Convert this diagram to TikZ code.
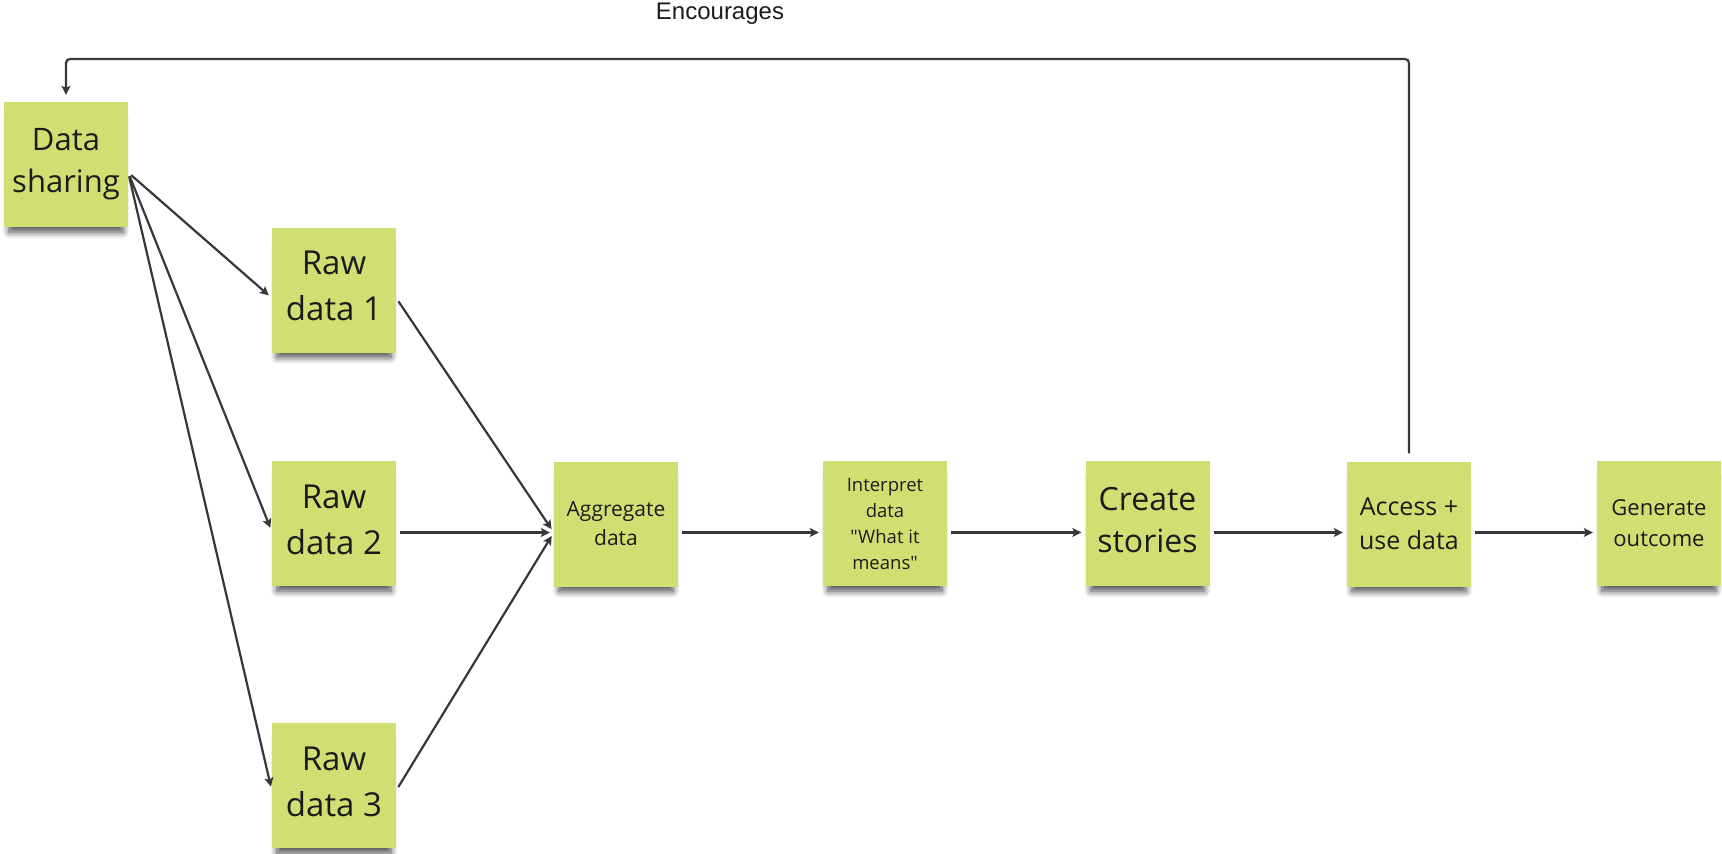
\documentclass[tikz,border=0pt]{standalone}
\usepackage{fontspec}
\setmainfont{Open Sans}[Ligatures=TeXOff]
\newfontfamily\captionfont{Liberation Sans}
\usetikzlibrary{arrows.meta,shadows.blur}

\definecolor{notegreen}{RGB}{209,223,114}
\definecolor{notetext}{RGB}{28,28,28}
\definecolor{linegray}{RGB}{55,55,55}

\tikzset{
  sticky/.style={fill=notegreen, minimum width=124pt, minimum height=125pt, inner sep=0pt,
    align=center, text=notetext,
    blur shadow={shadow xshift=0pt, shadow yshift=-11pt, shadow scale=0.92,
      shadow opacity=70, shadow blur radius=7pt, shadow blur steps=8}},
  lifted/.style={text depth=8pt},
  flow/.style={draw=linegray, line width=2.2pt, shorten <=4pt, shorten >=4pt,
    -{Stealth[length=9pt,width=9pt,inset=2pt]}},
}

\begin{document}
\begin{tikzpicture}[x=1pt,y=-1pt]
\useasboundingbox (0,0) rectangle (1722,854);

% Sticky notes
\node[sticky, font=\fontsize{31}{42}\selectfont] (share) at (66,164.5) {Data\\sharing};
\node[sticky, lifted, font=\fontsize{33}{46}\selectfont] (raw1) at (334,290) {Raw\\data 1};
\node[sticky, lifted, font=\fontsize{33}{46}\selectfont] (raw2) at (334,523.5) {Raw\\data 2};
\node[sticky, lifted, font=\fontsize{33}{46}\selectfont] (raw3) at (334,785.5) {Raw\\data 3};
\node[sticky, font=\fontsize{21}{29}\selectfont] (aggr) at (616,524) {Aggregate\\data};
\node[sticky, font=\fontsize{18.5}{26}\selectfont] (interp) at (885,523.5) {Interpret\\data\\"What it\\means"};
\node[sticky, lifted, font=\fontsize{32}{42}\selectfont] (stories) at (1147.5,523.5) {Create\\stories};
\node[sticky, font=\fontsize{25}{34}\selectfont] (access) at (1409,524) {Access +\\use data};
\node[sticky, font=\fontsize{22}{31}\selectfont] (outcome) at (1659,523.5) {Generate\\outcome};

% Text Node
\node[font=\captionfont\fontsize{24}{28}\selectfont, text=notetext] (enc) at (720,14) {Encourages};

% fan out from data sharing
\draw[flow] ([yshift=-8pt]share.east) -- ([yshift=-8pt]raw1.west);
\draw[flow] ([yshift=-8pt]share.east) -- ([yshift=-8pt]raw2.west);
\draw[flow] ([yshift=-8pt]share.east) -- ([yshift=-5pt]raw3.west);

% into aggregate
\draw[flow] ([yshift=-8pt]raw1.east) -- ([yshift=-8.5pt]aggr.west);
\draw[flow] ([yshift=-9pt]raw2.east) -- ([yshift=-8.5pt]aggr.west);
\draw[flow] ([yshift=-5pt]raw3.east) -- ([yshift=-8.5pt]aggr.west);

% main row
\draw[flow] ([yshift=-8.5pt]aggr.east) -- ([yshift=-9pt]interp.west);
\draw[flow] ([yshift=-9pt]interp.east) -- ([yshift=-9pt]stories.west);
\draw[flow] ([yshift=-9pt]stories.east) -- ([yshift=-8.5pt]access.west);
\draw[flow] ([yshift=-8.5pt]access.east) -- ([yshift=-9pt]outcome.west);

% feedback loop
\coordinate (loop) at (0,59);
\draw[flow, rounded corners=4pt, shorten <=8pt, shorten >=7pt] (access.north) |- (share.north |- loop) -- (share.north);

\end{tikzpicture}
\end{document}
